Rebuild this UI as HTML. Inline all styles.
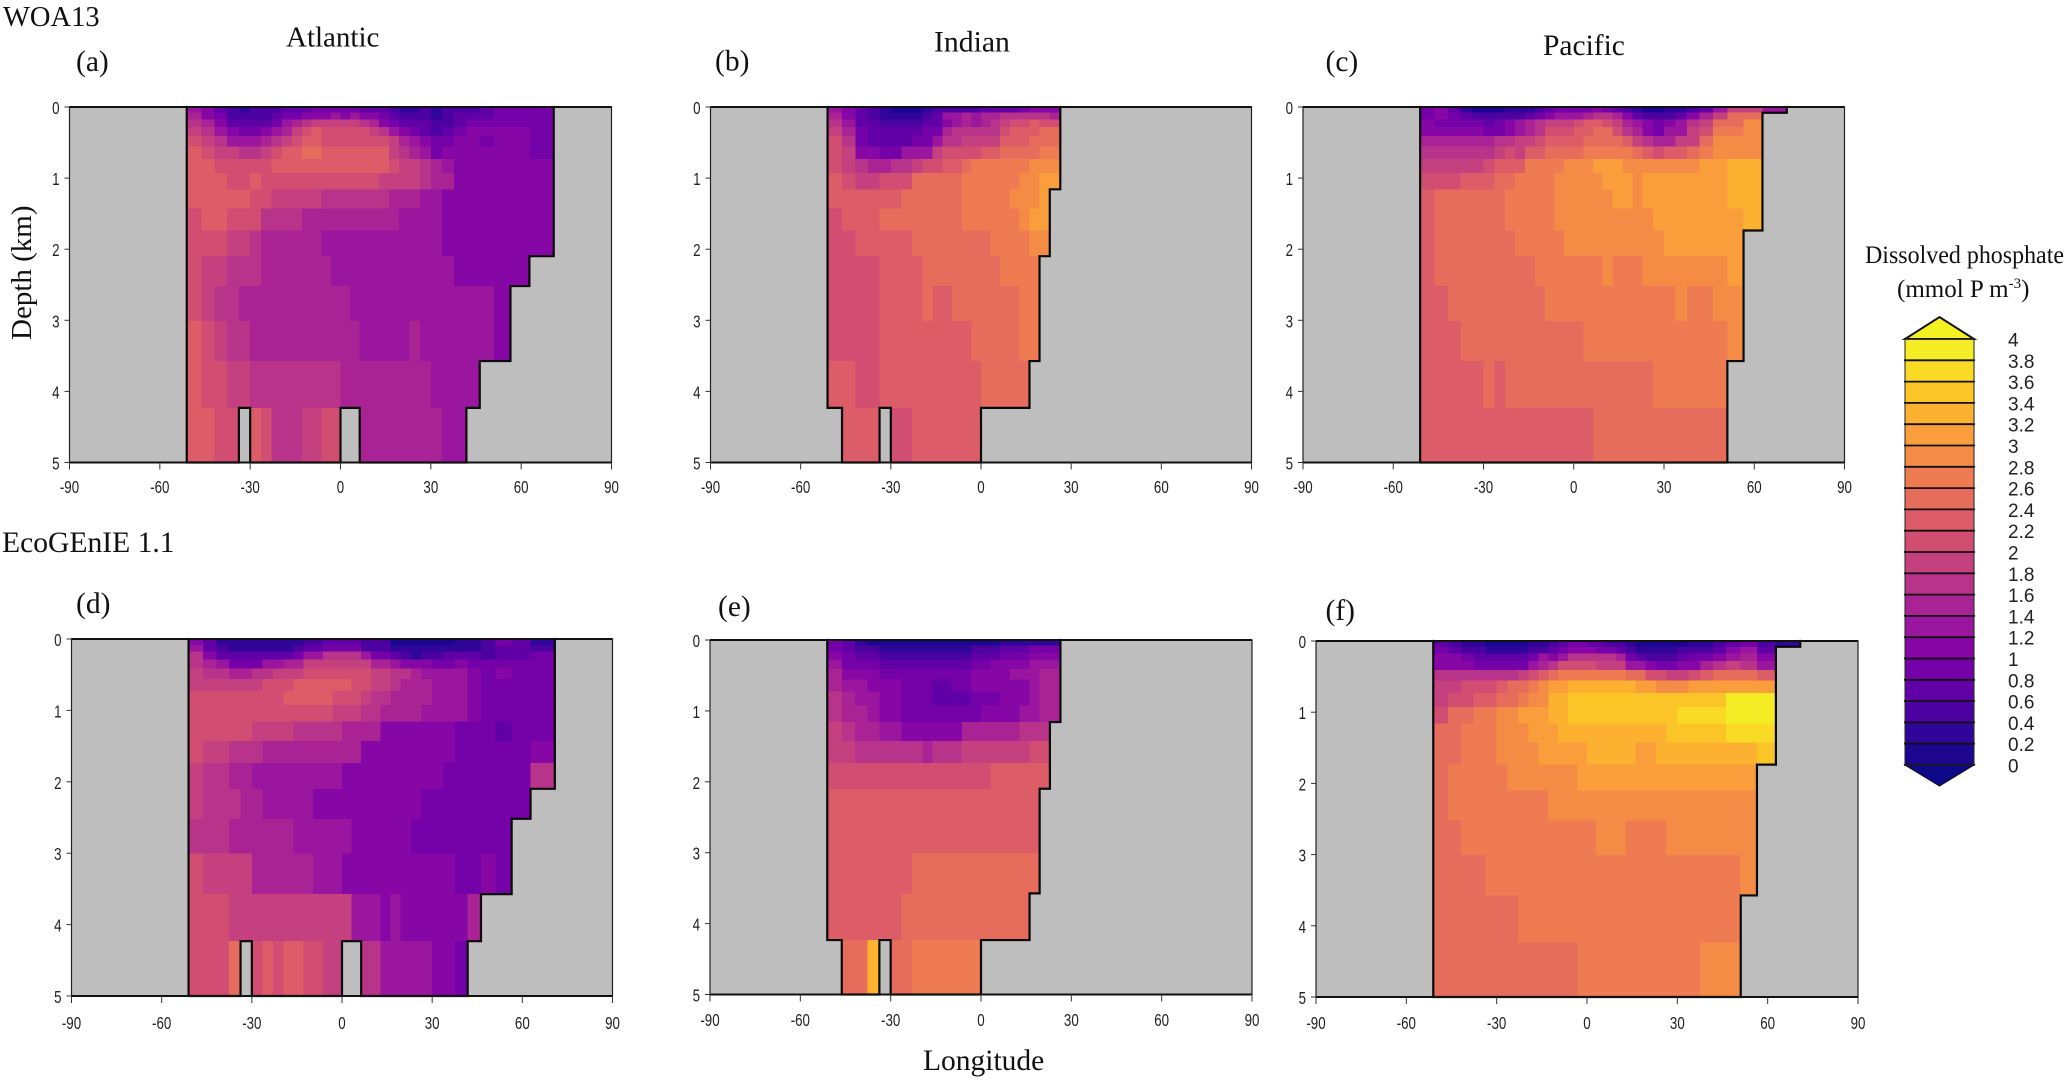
<!DOCTYPE html>
<html lang="en">
<head>
<meta charset="utf-8">
<title>Dissolved phosphate sections</title>
<style>
html,body{margin:0;padding:0;background:#fff;}
svg{display:block;}
.serif{font-family:"Liberation Serif",serif;fill:#111;}
.sans{font-family:"Liberation Sans",sans-serif;fill:#222;}
</style>
</head>
<body>
<svg id="figure" xmlns="http://www.w3.org/2000/svg" width="2067" height="1080" viewBox="0 0 2067 1080">
<rect width="2067" height="1080" fill="#fff"/>
<g id="panels"></g>
<g id="legend"></g>
<text class="serif" x="3" y="26" font-size="28.5">WOA13</text>
<text class="serif" x="2" y="552" font-size="29.6">EcoGEnIE 1.1</text>
<text class="serif" x="286" y="46.5" font-size="29">Atlantic</text>
<text class="serif" x="934" y="51.5" font-size="29.7">Indian</text>
<text class="serif" x="1543" y="55" font-size="29.5">Pacific</text>
<text class="serif" x="76" y="71" font-size="29.5">(a)</text>
<text class="serif" x="715" y="70.5" font-size="29.5">(b)</text>
<text class="serif" x="1325.5" y="71" font-size="29.5">(c)</text>
<text class="serif" x="76" y="613" font-size="29.5">(d)</text>
<text class="serif" x="718" y="616" font-size="29.5">(e)</text>
<text class="serif" x="1325.5" y="620" font-size="29.5">(f)</text>
<text class="serif" transform="translate(31,340) rotate(-90)" font-size="29">Depth (km)</text>
<text class="serif" x="923" y="1070" font-size="29.5">Longitude</text>
<text class="serif" x="1865" y="263" font-size="25.6" textLength="199" lengthAdjust="spacingAndGlyphs">Dissolved phosphate</text>
<text class="serif" x="1897" y="297" font-size="25">(mmol P m<tspan dy="-9" font-size="15">-3</tspan><tspan dy="9">)</tspan></text>
</svg>
<script>
const n = null;

const lonTickLabels = [-90, -60, -30, 0, 30, 60, 90];
const depthTickLabels = [0, 1, 2, 3, 4, 5];
const depthEdgesKm = [0, 0.0808, 0.1747, 0.2838, 0.4105, 0.5576, 0.7286, 0.927, 1.1576, 1.4255, 1.7368, 2.0984, 2.5185, 3.0065, 3.5735, 4.2322, 5];
const legendLevels = [4, 3.8, 3.6, 3.4, 3.2, 3, 2.8, 2.6, 2.4, 2.2, 2, 1.8, 1.6, 1.4, 1.2, 1, 0.8, 0.6, 0.4, 0.2, 0];
const legendLabels = ["4", "3.8", "3.6", "3.4", "3.2", "3", "2.8", "2.6", "2.4", "2.2", "2", "1.8", "1.6", "1.4", "1.2", "1", "0.8", "0.6", "0.4", "0.2", "0"];
const binColors = ["#1c0690", "#30059a", "#4c02a1", "#6100a7", "#7501a8", "#8707a6", "#9a169f", "#aa2395", "#b8338a", "#c5407e", "#d14e72", "#dc5c68", "#e66c5c", "#ee7b51", "#f58c46", "#fa9e3b", "#fdb130", "#fcc527", "#f9da24", "#f4ed25"];

const atlanticWoa13 = [
[1.3,1.1,.7,.5,.3,.5,.5,.5,.7,.7,.7,.9,.9,.9,.9,.9,.7,.7,.7,.5,.3,.3,.5,.3,.5,.5,.5,.7,.9,.9,.9],
[1.5,1.1,.9,.5,.5,.5,.5,.7,.9,.9,1.1,1.1,1.1,1.3,1.1,1.3,1.1,1.1,.9,.7,.5,.5,.5,.3,.5,.7,.7,.7,.9,.9,.9],
[1.7,1.5,1.1,.7,.7,.7,.7,.9,1.3,1.5,1.7,1.9,1.9,1.9,1.9,1.9,1.7,1.5,1.1,.9,.7,.7,.7,.5,.5,.7,.9,.9,.9,.9,.9],
[1.9,1.7,1.3,1.1,.9,.9,1.1,1.3,1.5,1.9,2.1,2.3,2.1,2.1,2.1,2.1,2.1,1.9,1.7,1.3,1.1,.9,.7,.5,.7,.9,1.1,1.1,1.1,1.1,.9],
[2.1,1.9,1.7,1.3,1.3,1.3,1.5,1.7,1.9,2.1,2.3,2.3,2.1,2.1,2.1,2.1,2.1,2.1,2.1,1.9,1.5,1.3,1.1,.9,.9,1.1,1.1,.9,1.1,1.1,.9],
[2.3,2.1,1.9,1.9,1.7,1.7,1.9,2.1,2.3,2.3,2.5,2.5,2.3,2.3,2.3,2.3,2.3,2.3,2.3,1.9,1.7,1.5,1.3,.9,1.1,1.1,1.1,1.1,1.1,1.1,.9],
[2.3,2.3,2.1,2.1,2.1,2.1,2.1,2.3,2.3,2.3,2.3,2.3,2.3,2.3,2.3,2.3,2.3,2.3,2.3,2.1,1.9,1.9,1.7,1.5,1.3,1.1,1.1,1.1,1.1,1.1,1.1],
[2.3,2.3,2.3,2.1,2.1,2.3,2.1,2.1,2.1,2.1,2.1,2.1,2.1,2.1,2.1,2.1,2.1,2.1,1.9,1.9,1.9,1.9,1.7,1.5,1.5,1.1,1.1,1.1,1.1,1.1,1.1],
[2.3,2.3,2.3,2.3,2.3,2.1,2.1,1.9,1.9,1.9,1.9,1.9,1.7,1.7,1.7,1.7,1.7,1.7,1.7,1.5,1.5,1.5,1.3,1.3,1.1,1.1,1.1,1.1,1.1,1.1,1.1],
[2.1,2.3,2.3,2.1,2.1,2.1,1.7,1.7,1.7,1.7,1.5,1.5,1.5,1.5,1.5,1.5,1.5,1.5,1.5,1.5,1.3,1.3,1.3,1.3,1.1,1.1,1.1,1.1,1.1,1.1,1.1],
[2.1,2.1,2.1,1.9,1.9,1.7,1.5,1.5,1.5,1.5,1.5,1.5,1.3,1.3,1.3,1.3,1.3,1.3,1.3,1.3,1.3,1.3,1.3,1.3,1.1,1.1,1.1,1.1,1.1,1.1,1.1],
[2.1,1.9,1.9,1.7,1.7,1.7,1.5,1.5,1.5,1.5,1.5,1.5,1.5,1.3,1.3,1.3,1.3,1.3,1.3,1.3,1.3,1.3,1.3,1.3,1.3,1.1,1.1,1.1,1.1,1.1,n],
[2.1,1.9,1.7,1.7,1.5,1.5,1.5,1.5,1.5,1.5,1.5,1.5,1.5,1.5,1.5,1.3,1.3,1.3,1.3,1.3,1.3,1.3,1.3,1.3,1.3,1.3,1.3,1.3,1.1,n,n],
[2.3,2.1,1.9,1.7,1.7,1.5,1.5,1.5,1.5,1.5,1.5,1.5,1.5,1.5,1.5,1.5,1.3,1.3,1.3,1.3,1.3,1.5,1.3,1.3,1.3,1.3,1.3,1.3,1.1,n,n],
[2.3,2.1,2.1,1.9,1.9,1.7,1.7,1.7,1.7,1.7,1.7,1.7,1.7,1.7,1.5,1.5,1.5,1.5,1.5,1.5,1.5,1.5,1.5,1.3,1.3,1.3,1.3,n,n,n,n],
[2.3,2.3,2.1,2.1,n,2.3,2.1,1.7,1.7,1.7,1.9,1.9,2.1,2.1,n,n,1.5,1.5,1.5,1.5,1.5,1.5,1.5,1.5,1.3,1.3,n,n,n,n,n]
];

const indianWoa13 = [
[1.3,1.1,.7,.5,.3,.1,.1,.1,.3,.5,.5,.5,.5,.5,.7,.7,.7,.7,.9,1.1,1.1,1.1],
[1.5,1.1,.7,.5,.3,.3,.3,.3,.5,.7,1.3,1.3,1.5,1.3,1.5,1.5,1.7,1.7,1.7,1.7,1.7,1.5],
[1.7,1.3,.7,.7,.5,.5,.5,.5,.7,.7,1.1,1.3,1.5,1.3,1.5,1.7,1.9,2.1,2.1,2.3,2.1,2.1],
[1.9,1.5,.9,.7,.7,.7,.7,.7,.9,.9,1.5,1.7,1.7,1.7,1.7,1.7,2.1,2.3,2.3,2.3,2.5,2.5],
[2.1,1.7,.9,.7,.7,.7,.7,.9,.9,1.3,1.7,1.7,1.9,1.9,1.9,1.9,2.3,2.3,2.3,2.5,2.5,2.5],
[2.1,1.9,1.1,1.1,.9,.9,1.3,1.3,1.3,1.9,2.1,2.1,2.1,2.1,2.3,2.3,2.5,2.5,2.5,2.5,2.7,2.7],
[2.1,1.9,1.7,1.5,1.5,1.7,1.7,1.9,2.1,2.1,2.3,2.3,2.5,2.7,2.7,2.7,2.7,2.7,2.7,2.9,2.9,2.9],
[2.3,2.1,1.9,1.9,2.1,2.1,2.1,2.5,2.5,2.5,2.5,2.5,2.7,2.7,2.7,2.7,2.7,2.7,2.9,2.9,3.1,3.1],
[2.3,2.3,2.3,2.3,2.3,2.3,2.5,2.5,2.5,2.5,2.5,2.5,2.7,2.7,2.7,2.7,2.7,2.9,2.9,2.9,3.1],
[2.1,2.3,2.3,2.3,2.5,2.5,2.5,2.5,2.5,2.5,2.5,2.5,2.7,2.7,2.7,2.7,2.7,2.7,2.9,3.1,3.1],
[2.1,2.1,2.3,2.3,2.3,2.3,2.3,2.5,2.5,2.5,2.5,2.5,2.5,2.5,2.5,2.7,2.7,2.7,2.7,2.9,2.9],
[2.1,2.1,2.1,2.1,2.3,2.3,2.3,2.3,2.5,2.5,2.5,2.5,2.5,2.5,2.5,2.5,2.7,2.7,2.7,2.7],
[2.1,2.1,2.1,2.1,2.3,2.3,2.3,2.3,2.5,2.3,2.3,2.5,2.5,2.5,2.5,2.5,2.5,2.5,2.7,2.7],
[2.1,2.1,2.1,2.1,2.3,2.3,2.3,2.3,2.3,2.3,2.3,2.3,2.3,2.5,2.5,2.5,2.5,2.5,2.7,2.7],
[2.3,2.3,2.1,2.1,2.3,2.3,2.3,2.3,2.3,2.3,2.3,2.3,2.3,2.3,2.5,2.5,2.5,2.5,2.5],
[n,2.3,2.3,2.3,n,2.1,2.1,2.3,2.3,2.3,2.3,2.3,2.3,2.3]
];

const pacificWoa13 = [
[.9,1.1,.7,.3,.1,.1,.1,.3,.3,.3,.5,.7,.9,.9,.9,.9,1.1,.9,.7,.5,.3,.1,.1,.3,.3,.5,.7,1.3,1.9,1.9,1.3],
[.9,1.1,.9,.7,.5,.5,.5,.5,.5,.7,.9,1.1,1.3,1.3,1.3,1.5,1.7,1.7,1.5,1.1,.7,.5,.5,.5,.7,1.1,1.5,1.9,2.5,2.5],
[1.1,.9,.9,.9,.9,.7,.9,1.1,1.3,1.5,1.7,1.9,1.9,1.9,2.1,2.3,2.3,2.1,1.9,1.5,1.3,1.1,.9,1.1,1.3,1.7,1.9,2.5,2.5,2.9],
[1.1,1.1,1.1,1.1,1.1,.9,.9,1.1,1.3,1.5,1.7,2.1,2.1,2.1,2.3,2.3,2.5,2.5,2.1,1.7,1.5,1.1,.9,1.3,1.3,1.9,2.1,2.7,2.7,2.9],
[1.5,1.5,1.5,1.5,1.5,1.5,1.7,1.7,1.9,1.9,2.1,2.3,2.3,2.3,2.3,2.5,2.5,2.5,2.5,2.3,1.9,1.7,1.5,1.5,1.9,1.9,2.5,2.9,2.9,2.9],
[1.7,1.7,1.7,1.7,1.7,1.7,1.9,2.1,1.9,2.3,2.3,2.5,2.5,2.5,2.5,2.7,2.7,2.7,2.7,2.7,2.5,2.3,2.1,2.3,2.3,2.5,2.7,2.9,2.9,2.9],
[1.9,1.9,1.9,1.9,1.9,2.1,2.3,2.3,2.3,2.7,2.7,2.7,2.7,2.9,2.9,2.9,3.1,3.1,3.1,2.9,2.9,2.9,2.9,2.9,2.9,2.9,3.1,3.1,3.3,3.3],
[2.1,2.1,2.1,2.3,2.3,2.3,2.5,2.5,2.7,2.7,2.7,2.7,2.9,2.9,2.9,2.9,2.9,3.1,3.1,3.1,2.9,3.1,3.1,3.1,3.1,3.1,3.1,3.1,3.3,3.3],
[2.3,2.5,2.5,2.5,2.5,2.5,2.5,2.7,2.7,2.7,2.7,2.7,2.9,2.9,2.9,2.9,2.9,2.9,3.1,3.1,2.9,3.1,3.1,3.1,3.1,3.1,3.1,3.1,3.3,3.3],
[2.3,2.5,2.5,2.5,2.5,2.5,2.5,2.7,2.7,2.7,2.7,2.7,2.9,2.9,2.9,2.9,2.9,2.9,2.9,2.9,2.9,2.9,3.1,3.1,3.1,3.1,3.1,3.1,3.1,3.3],
[2.3,2.5,2.5,2.5,2.5,2.5,2.5,2.5,2.7,2.7,2.7,2.7,2.7,2.9,2.9,2.9,2.9,2.9,2.9,2.9,2.9,2.9,2.9,3.1,3.1,3.1,3.1,3.1,3.1],
[2.3,2.5,2.5,2.5,2.5,2.5,2.5,2.5,2.5,2.5,2.7,2.7,2.7,2.7,2.7,2.7,2.7,2.9,2.7,2.7,2.7,2.9,2.9,2.9,2.9,2.9,2.9,2.9,3.1],
[2.3,2.3,2.5,2.5,2.5,2.5,2.5,2.5,2.5,2.5,2.5,2.7,2.7,2.7,2.7,2.7,2.7,2.7,2.7,2.7,2.7,2.7,2.7,2.7,2.9,2.7,2.7,2.9,2.9],
[2.3,2.3,2.3,2.5,2.5,2.5,2.5,2.5,2.5,2.5,2.5,2.5,2.5,2.5,2.5,2.7,2.7,2.7,2.7,2.7,2.7,2.7,2.7,2.7,2.7,2.7,2.7,2.7,2.9],
[2.3,2.3,2.3,2.3,2.3,2.5,2.3,2.5,2.5,2.5,2.5,2.5,2.5,2.5,2.5,2.5,2.5,2.5,2.5,2.5,2.5,2.5,2.7,2.7,2.7,2.7,2.7,2.7],
[2.3,2.3,2.3,2.3,2.3,2.3,2.3,2.3,2.3,2.3,2.3,2.3,2.3,2.3,2.3,2.3,2.5,2.5,2.5,2.5,2.5,2.5,2.5,2.5,2.5,2.5,2.5,2.5]
];

const atlanticEco = [
[1.1,.7,.3,.3,.3,.3,.3,.3,.3,.3,.5,.5,.7,.7,.7,.7,.5,.5,.5,.1,.1,.1,.1,.1,.1,.3,.3,.5,.9,.7,.3],
[1.3,.7,.5,.3,.3,.3,.3,.3,.3,.5,.7,.7,.9,.9,.9,.9,.5,.5,.5,.3,.3,.3,.3,.3,.3,.3,.3,.5,.7,.7,.5],
[1.7,1.1,.7,.7,.7,.7,.7,.7,.7,.9,1.3,1.3,1.7,1.7,1.7,1.7,1.3,.9,.9,.7,.5,.3,.5,.5,.7,.7,.7,.5,.7,.7,.9],
[1.7,1.5,1.3,.9,.9,.9,1.3,1.3,1.5,1.5,1.9,1.9,1.9,1.9,1.9,1.9,1.9,1.5,1.5,1.3,1.1,1.1,1.1,.9,.9,1.1,.9,.9,.9,.9,.9],
[1.9,1.7,1.7,1.5,1.5,1.7,1.7,1.9,1.9,1.9,2.1,2.1,2.1,2.1,2.1,2.1,2.1,1.9,1.9,1.7,1.7,1.5,1.3,1.3,1.3,1.3,1.1,.9,1.1,.9,.9],
[1.9,1.9,1.9,1.9,1.9,1.9,2.1,2.1,2.1,2.3,2.3,2.3,2.3,2.3,2.3,2.1,2.1,1.9,1.9,1.7,1.5,1.5,1.5,1.3,1.3,1.3,1.1,.9,.9,.9,.9],
[2.1,2.1,2.1,2.1,2.1,2.1,2.1,2.1,2.3,2.3,2.3,2.3,2.3,2.1,2.1,2.1,1.9,1.7,1.7,1.5,1.5,1.5,1.5,1.3,1.3,1.3,1.1,.9,.9,.9,.9],
[2.1,2.1,2.1,2.1,2.1,2.1,2.1,2.1,2.1,2.1,2.1,2.1,2.1,1.9,1.9,1.9,1.7,1.7,1.5,1.5,1.5,1.5,1.3,1.3,1.3,1.3,1.1,.9,.9,.9,.9],
[2.1,2.1,2.1,2.1,2.1,1.9,1.9,1.9,1.9,1.7,1.7,1.7,1.7,1.7,1.5,1.5,1.5,1.5,1.1,1.1,1.1,1.1,1.1,1.1,1.1,.9,.9,.9,.7,.9,.9],
[2.1,1.9,1.9,1.7,1.7,1.7,1.5,1.5,1.5,1.5,1.5,1.5,1.5,1.5,1.5,1.5,1.1,1.1,1.1,1.1,1.1,1.1,1.1,1.1,1.1,.9,.9,.9,.9,.9,1.1],
[1.9,1.7,1.7,1.5,1.5,1.3,1.3,1.3,1.3,1.3,1.3,1.3,1.3,1.3,1.1,1.1,1.1,1.1,1.1,1.1,1.1,1.1,1.1,1.1,.9,.9,.9,.9,.9,.9,1.7],
[1.9,1.7,1.7,1.7,1.5,1.5,1.3,1.3,1.3,1.3,1.3,1.1,1.1,1.1,1.1,1.1,1.1,1.1,1.1,1.1,1.1,1.1,.9,.9,.9,.9,.9,.9,.9,.9,n],
[1.7,1.7,1.7,1.5,1.5,1.5,1.5,1.5,1.5,1.3,1.3,1.3,1.3,1.3,1.3,1.1,1.1,1.1,1.1,1.1,1.1,.9,.9,.9,.9,.9,.9,.9,.9,n,n],
[2.1,1.9,1.9,1.9,1.9,1.5,1.5,1.5,1.5,1.5,1.5,1.3,1.3,1.3,1.1,1.1,1.1,1.1,1.1,1.1,1.1,1.1,1.1,1.1,1.1,.9,.9,1.1,.9,n,n],
[2.1,2.1,2.1,1.9,1.9,1.9,1.9,1.9,1.9,1.9,1.9,1.9,1.9,1.9,1.9,1.3,1.3,1.3,1.1,1.3,1.1,1.1,1.1,1.1,1.1,1.1,1.5,n,n,n,n],
[2.1,2.1,2.1,2.5,n,2.1,2.3,2.1,2.3,2.3,2.1,2.1,1.9,1.9,n,n,1.7,1.7,1.3,1.3,1.3,1.3,1.3,1.1,1.1,.9,n,n,n,n,n]
];

const indianEco = [
[.9,.7,.3,.1,.1,.1,.1,.1,.1,.1,.1,.1,.1,.1,.1,.1,.3,.3,.3,.3,.3,.3],
[.9,.7,.5,.5,.3,.3,.3,.3,.3,.3,.3,.3,.3,.5,.5,.5,.7,.7,.7,.9,.9,.9],
[1.1,.9,.7,.7,.5,.5,.5,.5,.5,.5,.5,.5,.5,.7,.7,.7,.9,.9,.9,1.1,1.1,1.1],
[1.3,.9,.9,.9,.7,.7,.7,.7,.7,.7,.7,.7,.7,.9,.9,1.1,1.1,1.1,1.1,1.3,1.3,1.3],
[1.5,1.1,1.1,1.1,.9,.9,.9,.9,.9,.9,.9,.9,.9,1.1,1.1,1.1,1.1,1.3,1.3,1.3,1.5,1.5],
[1.5,1.3,1.3,1.1,1.1,1.1,.9,.9,.9,.7,.7,.9,.9,1.1,1.1,1.1,1.1,1.1,1.1,1.3,1.5,1.5],
[1.7,1.5,1.3,1.3,1.1,1.1,.9,.9,.9,.7,.7,.7,.7,.9,.9,.9,1.1,1.1,1.1,1.3,1.5,1.5],
[1.7,1.5,1.5,1.3,1.1,1.1,.9,.9,.9,.9,.9,.9,.9,.9,1.1,1.1,1.1,1.1,1.3,1.3,1.5,1.5],
[1.9,1.7,1.5,1.5,1.3,1.3,1.1,1.1,1.1,1.1,1.1,1.1,1.5,1.5,1.5,1.5,1.5,1.5,1.7,1.7,1.7],
[1.9,1.9,1.7,1.7,1.7,1.7,1.7,1.7,1.5,1.7,1.7,1.7,1.9,1.9,1.9,1.9,1.9,1.9,1.9,2.1,2.1],
[2.1,2.1,2.1,2.1,2.1,2.1,2.1,2.1,2.1,2.1,2.1,2.1,2.1,2.1,2.1,2.3,2.3,2.3,2.3,2.3,2.3],
[2.3,2.3,2.3,2.3,2.3,2.3,2.3,2.3,2.3,2.3,2.3,2.3,2.3,2.3,2.3,2.3,2.3,2.3,2.3,2.3],
[2.3,2.3,2.3,2.3,2.3,2.3,2.3,2.3,2.3,2.3,2.3,2.3,2.3,2.3,2.3,2.3,2.3,2.3,2.3,2.3],
[2.3,2.3,2.3,2.3,2.3,2.3,2.3,2.5,2.5,2.5,2.5,2.5,2.5,2.5,2.5,2.5,2.5,2.5,2.5,2.5],
[2.3,2.3,2.3,2.3,2.3,2.3,2.5,2.5,2.5,2.5,2.5,2.5,2.5,2.5,2.5,2.5,2.5,2.5,2.5],
[n,2.5,2.5,3.3,n,2.5,2.5,2.7,2.7,2.7,2.7,2.7,2.7,2.7]
];

const pacificEco = [
[.7,.5,.3,.3,.1,.1,.1,.1,.3,.3,.5,.7,.9,.9,.7,.7,.5,.5,.3,.1,.1,.1,.1,.1,.3,.3,.5,.7,.9,.5,.3],
[.9,.7,.5,.5,.3,.3,.3,.3,.5,.5,.7,.9,1.1,1.1,1.1,.9,.9,.7,.5,.3,.3,.3,.3,.5,.5,.5,.7,1.1,1.3,.7],
[1.1,1.1,.9,.7,.7,.7,.7,.7,.9,1.3,1.1,1.3,1.7,1.7,1.7,1.7,1.7,1.5,.9,.7,.5,.5,.5,.7,.9,.9,1.1,1.3,1.5,1.1],
[1.1,1.1,1.1,.9,.9,.9,.9,.9,1.3,1.5,1.7,2.1,2.1,2.1,2.1,1.9,1.9,1.9,1.3,1.3,1.1,.9,.9,1.1,1.1,1.5,1.7,1.9,1.7,1.3],
[1.7,1.7,1.7,1.7,1.7,1.7,1.7,1.9,2.1,2.3,2.5,2.7,2.7,2.7,2.7,2.7,2.7,2.7,2.5,2.5,2.1,2.1,1.9,1.9,2.1,2.3,2.5,2.5,2.5,2.3],
[1.9,1.9,2.1,2.1,2.1,2.3,2.5,2.5,2.7,2.9,3.1,3.1,3.3,3.3,3.3,3.3,3.3,3.3,3.3,3.1,3.1,2.9,2.9,2.9,3.1,3.1,3.1,3.1,3.1,3.1],
[1.9,2.1,2.1,2.3,2.3,2.5,2.5,2.7,2.9,2.9,3.3,3.3,3.5,3.5,3.5,3.5,3.5,3.5,3.5,3.5,3.5,3.5,3.5,3.5,3.5,3.5,3.5,3.9,3.9,3.9],
[2.1,2.5,2.5,2.7,2.7,2.9,2.9,3.1,3.1,3.1,3.3,3.3,3.5,3.5,3.5,3.5,3.5,3.5,3.5,3.5,3.5,3.5,3.5,3.7,3.7,3.7,3.7,3.9,3.9,3.9],
[2.5,2.5,2.7,2.7,2.7,2.9,2.9,2.9,3.1,3.1,3.1,3.3,3.3,3.3,3.3,3.3,3.3,3.3,3.3,3.3,3.3,3.3,3.5,3.5,3.5,3.5,3.5,3.7,3.7,3.7],
[2.5,2.5,2.7,2.7,2.7,2.9,2.9,2.9,2.9,3.1,3.1,3.1,3.1,3.1,3.3,3.3,3.3,3.3,3.3,3.1,3.1,3.3,3.3,3.3,3.3,3.3,3.3,3.3,3.3,3.5],
[2.5,2.7,2.7,2.7,2.7,2.7,2.9,2.9,2.9,2.9,2.9,2.9,2.9,3.1,3.1,3.1,3.1,3.1,3.1,3.1,3.1,3.1,3.1,3.1,3.1,3.1,3.1,3.1,3.1],
[2.5,2.7,2.7,2.7,2.7,2.7,2.7,2.7,2.7,2.7,2.9,2.9,2.9,2.9,2.9,2.9,2.9,2.9,2.9,2.9,2.9,2.9,2.9,2.9,2.9,2.9,2.9,2.9,2.9],
[2.5,2.5,2.7,2.7,2.7,2.7,2.7,2.7,2.7,2.7,2.7,2.7,2.7,2.7,2.7,2.9,2.9,2.9,2.7,2.7,2.7,2.7,2.9,2.9,2.9,2.9,2.9,2.9,2.9],
[2.5,2.5,2.5,2.5,2.7,2.7,2.7,2.7,2.7,2.7,2.7,2.7,2.7,2.7,2.7,2.7,2.7,2.7,2.7,2.7,2.7,2.7,2.7,2.7,2.7,2.7,2.7,2.7,2.9],
[2.5,2.5,2.5,2.5,2.5,2.5,2.5,2.7,2.7,2.7,2.7,2.7,2.7,2.7,2.7,2.7,2.7,2.7,2.7,2.7,2.7,2.7,2.7,2.7,2.7,2.7,2.7,2.7],
[2.5,2.5,2.5,2.5,2.5,2.5,2.5,2.5,2.5,2.5,2.5,2.5,2.5,2.7,2.7,2.7,2.7,2.7,2.7,2.7,2.7,2.7,2.7,2.7,2.7,2.9,2.9,2.9]
];

const panelConfigs = [
  {id: 'a', values: atlanticWoa13, left: 69.5, right: 611.5, top: 107, bottom: 462.5, labelY: 493},
  {id: 'b', values: indianWoa13, left: 710.5, right: 1251.5, top: 107, bottom: 462.5, labelY: 493},
  {id: 'c', values: pacificWoa13, left: 1303, right: 1844.5, top: 107, bottom: 462.5, labelY: 493},
  {id: 'd', values: atlanticEco, left: 71.5, right: 612.5, top: 639, bottom: 996, labelY: 1029},
  {id: 'e', values: indianEco, left: 710, right: 1252, top: 640, bottom: 994.5, labelY: 1026},
  {id: 'f', values: pacificEco, left: 1316, right: 1858, top: 641, bottom: 997, labelY: 1029}
];

const SVG_NS = 'http://www.w3.org/2000/svg';
const LON_GRID_OFFSET = -14;

function make(tag, attrs, parent) {
  const el = document.createElementNS(SVG_NS, tag);
  for (const key in attrs) el.setAttribute(key, attrs[key]);
  parent.appendChild(el);
  return el;
}
function colorFor(v) {
  const i = Math.max(0, Math.min(binColors.length - 1, Math.floor(v / 0.2)));
  return binColors[i];
}
function lonEdge(col) {
  return Math.asin((col + LON_GRID_OFFSET) / 18) * 180 / Math.PI;
}
function isOcean(values, r, c) {
  if (r < 0 || r >= values.length || c < 0) return false;
  const v = values[r][c];
  return v !== null && v !== undefined;
}

function drawPanel(cfg) {
  const root = document.getElementById('panels');
  const xs = lon => cfg.left + (lon + 90) / 180 * (cfg.right - cfg.left);
  const ys = d => cfg.top + d / 5 * (cfg.bottom - cfg.top);

  const g = make('g', {}, root);
  
  

  const land = make('rect', {x: cfg.left, y: cfg.top, width: cfg.right - cfg.left, height: cfg.bottom - cfg.top, fill: '#bebebe'}, g);
  
  

  const cells = make('g', {'shape-rendering': 'crispEdges'}, g);
  
  
  let outline = '';
  cfg.values.forEach((row, r) => {
    row.forEach((v, c) => {
      if (v === null || v === undefined) return;
      const x0 = xs(lonEdge(c)), x1 = xs(lonEdge(c + 1));
      const y0 = ys(depthEdgesKm[r]), y1 = ys(depthEdgesKm[r + 1]);
      const cell = make('rect', {x: x0, y: y0, width: x1 - x0 + 0.3, height: y1 - y0 + 0.3, fill: colorFor(v)}, cells);
      
      
      if (!isOcean(cfg.values, r, c - 1)) outline += `M${x0} ${y0}V${y1}`;
      if (!isOcean(cfg.values, r, c + 1)) outline += `M${x1} ${y0}V${y1}`;
      if (!isOcean(cfg.values, r + 1, c)) outline += `M${x0} ${y1}H${x1}`;
      if (r > 0 && !isOcean(cfg.values, r - 1, c)) outline += `M${x0} ${y0}H${x1}`;
    });
  });

  const coast = make('path', {d: outline, fill: 'none', stroke: '#0a0a0a', 'stroke-width': 2.2, 'stroke-linecap': 'square'}, g);
  
  

  const frame = make('rect', {x: cfg.left, y: cfg.top, width: cfg.right - cfg.left, height: cfg.bottom - cfg.top, fill: 'none', stroke: '#222', 'stroke-width': 1.2}, g);
  
  

  const topLine = make('line', {x1: cfg.left, x2: cfg.right, y1: cfg.top, y2: cfg.top, stroke: '#111', 'stroke-width': 2}, g);
  
  
  const bottomLine = make('line', {x1: cfg.left, x2: cfg.right, y1: cfg.bottom, y2: cfg.bottom, stroke: '#111', 'stroke-width': 2}, g);
  
  

  lonTickLabels.forEach(lon => {
    const x = xs(lon);
    const tick = make('line', {x1: x, x2: x, y1: cfg.bottom, y2: cfg.bottom + 7, stroke: '#333', 'stroke-width': 1}, g);
    
    
    const label = make('text', {transform: `translate(${x},${cfg.labelY}) scale(0.74,1)`, 'text-anchor': 'middle', 'font-size': 18, class: 'sans'}, g);
    label.textContent = String(lon);
    
    
  });
  depthTickLabels.forEach(d => {
    const y = ys(d);
    const tick = make('line', {x1: cfg.left - 5, x2: cfg.left, y1: y, y2: y, stroke: '#333', 'stroke-width': 1}, g);
    
    
    const label = make('text', {transform: `translate(${cfg.left - 10},${y + 7}) scale(0.74,1)`, 'text-anchor': 'end', 'font-size': 18, class: 'sans'}, g);
    label.textContent = String(d);
    
    
  });
}

function drawLegend() {
  const g = document.getElementById('legend');
  const left = 1905, right = 1974, top = 339, bottom = 765;
  const mid = (left + right) / 2;
  const yOf = v => bottom - v / 4 * (bottom - top);

  const over = make('polygon', {points: `${left},${top} ${mid},${top - 22} ${right},${top}`, fill: '#f4f022', stroke: '#111', 'stroke-width': 2}, g);
  
  
  const under = make('polygon', {points: `${left},${bottom} ${mid},${bottom + 21} ${right},${bottom}`, fill: '#0d0887', stroke: '#111', 'stroke-width': 1}, g);
  
  

  legendLevels.forEach((level, i) => {
    if (i < legendLevels.length - 1) {
      const lower = legendLevels[i + 1];
      const swatch = make('rect', {x: left, y: yOf(level), width: right - left, height: yOf(lower) - yOf(level), fill: colorFor((level + lower) / 2)}, g);
      
      
    }
  });
  legendLevels.forEach((level, i) => {
    const line = make('line', {x1: left - 1, x2: right + 1, y1: yOf(level), y2: yOf(level), stroke: '#111', 'stroke-width': 1.8}, g);
    
    
    const label = make('text', {x: 2008, y: yOf(level) + 7.5, 'font-size': 19, class: 'sans'}, g);
    label.textContent = legendLabels[i];
    
    
  });
  const border = make('rect', {x: left, y: top, width: right - left, height: bottom - top, fill: 'none', stroke: '#222', 'stroke-width': 1}, g);
  
  
}

panelConfigs.forEach(drawPanel);
drawLegend();
</script>
</body>
</html>
